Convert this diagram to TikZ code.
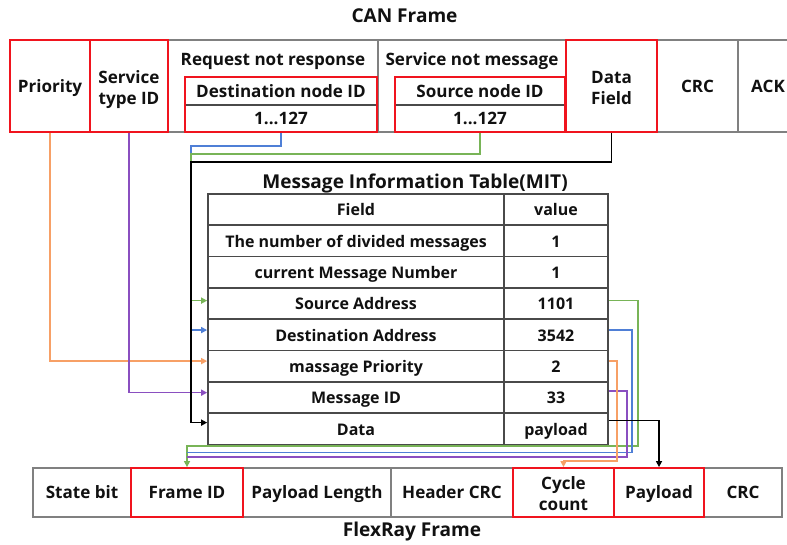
\documentclass[tikz,border=0pt]{standalone}
\usepackage{fontspec}
\setmainfont{Open Sans}
\usetikzlibrary{arrows.meta,calc}
\definecolor{framegray}{HTML}{808080}
\definecolor{hlred}{HTML}{F0141E}
\definecolor{tabline}{HTML}{4A4A4A}
\definecolor{lnorange}{HTML}{F7A066}
\definecolor{lnpurple}{HTML}{8A4FC0}
\definecolor{lnblue}{HTML}{4F7FD6}
\definecolor{lngreen}{HTML}{78B457}
\definecolor{txt}{HTML}{111111}
% a rectangular box spanning (x1,y1)-(x2,y2) in pixel units, with its text centred
% args: box style, text style, name, x1, y1, x2, y2, text
\newcommand\cellnode[8]{%
  \pgfmathsetmacro\cw{(#6-#4)*0.75}%
  \pgfmathsetmacro\ch{(#7-#5)*0.75}%
  \node[#1, minimum width=\cw pt, minimum height=\ch pt] (#3) at ({(#4+#6)/2},{(#5+#7)/2}) {};
  \node[#2] (#3t) at ([yshift=-1.1pt]#3.center) {#8};}
\begin{document}
\begin{tikzpicture}[x=0.75pt,y=-0.75pt,
  mainfont/.style={font=\bfseries\fontsize{12.8}{15.8}\selectfont, text=txt},
  box/.style={draw=framegray, line width=1.4pt, inner sep=0pt},
  hl/.style={box, draw=hlred},
  nobox/.style={draw=none, inner sep=0pt},
  tbox/.style={draw=tabline, line width=1.3pt, inner sep=0pt},
  one/.style={mainfont, inner sep=0pt, text height=0.72em, text depth=0pt},
  two/.style={mainfont, inner sep=0pt, align=center, text depth=0pt},
  tone/.style={font=\bfseries\fontsize{12}{14}\selectfont, text=txt, inner sep=0pt, text height=0.72em, text depth=0pt},
  conn/.style={line width=1.1pt},
  tip/.style={-{Triangle[length=4.5pt,width=4.5pt]}},
  ttl/.style={font=\bfseries\fontsize{14.3}{17}\selectfont, text=txt, inner sep=0pt, text height=0.72em, text depth=0pt}]
\path[use as bounding box, fill=white] (0,0) rectangle (787,544);
\clip (0,0) rectangle (787,544);

% ---------- CAN frame ----------
\node[ttl] (cantitle) at (404.5,18) {CAN Frame};
\cellnode{box}{one}{req}{168}{40}{378}{132}{}
\cellnode{box}{one}{srv}{378}{40}{566}{132}{}
\cellnode{box}{one}{crc}{657}{40}{738}{132}{CRC}
\cellnode{box}{one}{ack}{738}{40}{798}{132}{ACK}
\node[one] (reqtxt) at (273,60.5) {Request not response};
\node[one] (srvtxt) at (472,60.5) {Service not message};

\cellnode{nobox}{one}{dstname}{185}{77}{377}{105}{Destination node ID}
\cellnode{nobox}{one}{dstval}{185}{105}{377}{132}{1...127}
\cellnode{nobox}{one}{srcname}{395}{77}{565}{105}{Source node ID}
\cellnode{nobox}{one}{srcval}{395}{105}{565}{132}{1...127}
\draw[draw=tabline, line width=1.2pt] (dstname.south west) -- (dstname.south east);
\draw[draw=tabline, line width=1.2pt] (srcname.south west) -- (srcname.south east);

\cellnode{hl}{one}{prio}{10}{40}{90}{132}{Priority}
\cellnode{hl}{two}{stype}{90}{40}{168}{132}{Service\\type ID}
\cellnode{hl}{two}{data}{566}{40}{657}{132}{Data\\Field}
\cellnode{hl}{one}{dst}{185}{77}{377}{132}{}
\cellnode{hl}{one}{src}{395}{77}{565}{132}{}

% ---------- Message Information Table ----------
\node[ttl] (mit) at (415,184) {Message Information Table(MIT)};
\foreach \i/\f/\v in {1/Field/value,
    2/The number of divided messages/1,
    3/current Message Number/1,
    4/Source Address/1101,
    5/Destination Address/3542,
    6/massage Priority/2,
    7/Message ID/33,
    8/Data/payload}{
  \pgfmathsetmacro\ya{194+31.3*(\i-1)}
  \pgfmathsetmacro\yb{\ya+31.3}
  \cellnode{tbox}{tone}{f\i}{208}{\ya}{504}{\yb}{\f}
  \cellnode{tbox}{tone}{v\i}{504}{\ya}{608}{\yb}{\v}
}

% ---------- FlexRay frame ----------
\cellnode{box}{one}{sb}{33}{468}{131}{517}{State bit}
\cellnode{box}{one}{pl}{243}{468}{391}{517}{Payload Length}
\cellnode{box}{one}{hcrc}{391}{468}{513}{517}{Header CRC}
\cellnode{box}{one}{fcrc}{704}{468}{782}{517}{CRC}
\cellnode{hl}{one}{fid}{131}{468}{243}{517}{Frame ID}
\cellnode{hl}{two}{cyc}{513}{468}{614}{517}{Cycle\\count}
\cellnode{hl}{one}{pay}{614}{468}{704}{517}{Payload}
\node[ttl] (frtitle) at (412,532) {FlexRay Frame};

% ---------- bend points ----------
\coordinate (bendB) at (191,146);
\coordinate (bendG) at (191,154);
\coordinate (bendK) at (191,162);
\coordinate (rG) at (638,446);
\coordinate (rB) at (632,452.5);
\coordinate (rP) at (627,457);
\coordinate (rO) at (617,461);

% ---------- CAN -> MIT ----------
\draw[conn, lnorange, tip] (prio.south) |- ([yshift=3.8pt]f6.west);
\draw[conn, lnpurple, tip] (stype.south) |- ([yshift=3.6pt]f7.west);
\draw[conn, lnblue, tip] (dst.south) |- (bendB) |- ([yshift=3.6pt]f5.west);
\draw[conn, lngreen, tip] (src.south) |- (bendG) |- ([yshift=2.2pt]f4.west);
\draw[conn, black, tip] (data.south) |- (bendK) |- ([yshift=4.6pt]f8.west);

% ---------- MIT -> FlexRay ----------
\draw[conn, lngreen, tip] ([yshift=2.2pt]v4.east) -| (rG) -| (fid.north);
\draw[conn, lnblue] ([yshift=3.6pt]v5.east) -| (rB) -- (fid.north |- rB);
\draw[conn, lnpurple] ([yshift=5pt]v7.east) -| (rP) -- (fid.north |- rP);
\draw[conn, lnorange, tip] ([yshift=3.8pt]v6.east) -| (rO) -| (cyc.north);
\draw[conn, black, tip] ([yshift=6pt]v8.east) -| (pay.north);
\end{tikzpicture}
\end{document}
